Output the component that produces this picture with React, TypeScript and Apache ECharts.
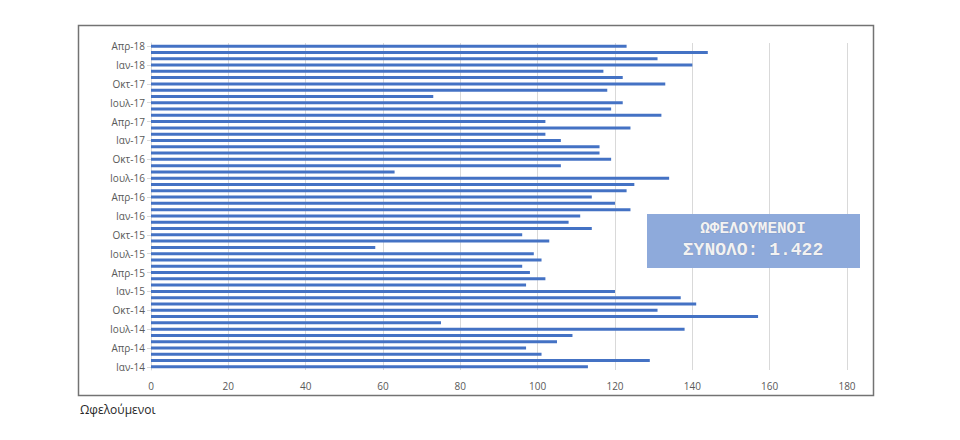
import React, { useEffect, useRef } from "react";
import * as echarts from "echarts";

const monthNames = ["Ιαν", "Φεβ", "Μαρ", "Απρ", "Μαϊ", "Ιουν", "Ιουλ", "Αυγ", "Σεπ", "Οκτ", "Νοε", "Δεκ"];
const years = ["14", "15", "16", "17", "18"];

const values2014 = [113, 129, 101, 97, 105, 109, 138, 75, 157, 131, 141, 137];
const values2015 = [120, 97, 102, 98, 96, 101, 99, 58, 103, 96, 114, 108];
const values2016 = [111, 124, 120, 114, 123, 125, 134, 63, 106, 119, 116, 116];
const values2017 = [106, 102, 124, 102, 132, 119, 122, 73, 118, 133, 122, 117];
const values2018 = [140, 131, 144, 123];

const xTicks = [0, 20, 40, 60, 80, 100, 120, 140, 160, 180];

const boxTitle = "ΩΦΕΛΟΥΜΕΝΟΙ";
const boxTotal = "ΣΥΝΟΛΟ: 1.422";
const caption = "Ωφελούμενοι";

export default function App() {
  const ref = useRef<HTMLDivElement>(null);

  useEffect(() => {
    if (!ref.current) return;
    const chart = echarts.init(ref.current, null, { renderer: "svg" });
    const values = [...values2014, ...values2015, ...values2016, ...values2017, ...values2018];
    const categories: string[] = [];
    years.forEach((y) => monthNames.forEach((m) => categories.push(m + "-" + y)));
    categories.length = values.length;

    chart.setOption({
      animation: false,
      backgroundColor: "#ffffff",
      grid: { left: 151, right: 113, top: 43, bottom: 70, containLabel: false },
      xAxis: {
        type: "value",
        min: xTicks[0],
        max: xTicks[xTicks.length - 1],
        interval: xTicks[1] - xTicks[0],
        axisLine: { show: false },
        axisTick: { show: false },
        axisLabel: { color: "#595959", fontSize: 10, fontFamily: "Open Sans", margin: 11 },
        splitLine: { show: true, lineStyle: { color: "#d9d9d9", width: 1 } },
      },
      yAxis: {
        type: "category",
        data: categories,
        axisLine: { show: true, lineStyle: { color: "#d9d9d9" } },
        axisTick: { show: true, interval: 2, length: 4, alignWithLabel: true, lineStyle: { color: "#d9d9d9" } },
        axisLabel: { interval: 2, color: "#595959", fontSize: 10, fontFamily: "Open Sans", margin: 6 },
        splitLine: { show: false },
      },
      series: [
        {
          type: "bar",
          data: values,
          barWidth: 3,
          itemStyle: { color: "#4472c4" },
        },
      ],
      graphic: [
        {
          type: "rect",
          shape: { x: 78.5, y: 25.5, width: 795, height: 370 },
          style: { fill: "none", stroke: "#737373", lineWidth: 1.5 },
          silent: true,
        },
        {
          type: "rect",
          shape: { x: 647, y: 214, width: 213, height: 54 },
          style: { fill: "#8eaadb" },
          z: 10,
        },
        {
          type: "text",
          x: 753,
          y: 229,
          z: 11,
          style: {
            text: boxTitle,
            fill: "#f2f2f2",
            stroke: "#7f93b8",
            lineWidth: 0.6,
            font: "bold 16px 'Liberation Mono'",
            align: "center",
            verticalAlign: "middle",
          },
        },
        {
          type: "text",
          x: 753,
          y: 250,
          z: 11,
          style: {
            text: boxTotal,
            fill: "#f2f2f2",
            stroke: "#7f93b8",
            lineWidth: 0.6,
            font: "bold 18px 'Liberation Mono'",
            align: "center",
            verticalAlign: "middle",
          },
        },
        {
          type: "text",
          x: 80,
          y: 409,
          style: {
            text: caption,
            fill: "#262626",
            font: "12px 'Open Sans'",
            align: "left",
            verticalAlign: "middle",
          },
        },
      ],
    });
    return () => chart.dispose();
  }, []);

  return (
    <div
      ref={ref}
      style={{ position: "fixed", left: 0, top: 0, width: 960, height: 440 }}
    />
  );
}
